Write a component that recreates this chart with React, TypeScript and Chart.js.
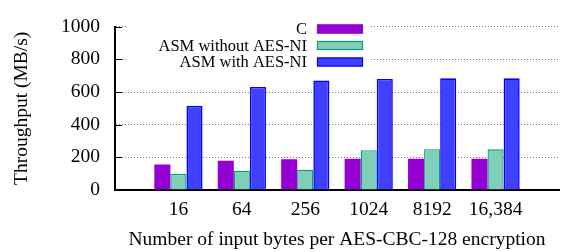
import { useEffect, useRef } from 'react';
import { Chart, registerables } from 'chart.js';

Chart.register(...registerables);

const categories = ['', '16', '64', '256', '1024', '8192', '16,384', ''];
const seriesNames = ['C', 'ASM without AES-NI', 'ASM with AES-NI'];
const cValues = [null, 156, 179, 189, 192, 192, 192, null];
const asmNoAesniValues = [null, 99, 118, 124, 244, 250, 249, null];
const asmAesniValues = [null, 516, 631, 671, 680, 684, 684, null];
const yTickValues = [0, 200, 400, 600, 800, 1000];

const FONT = "'Liberation Serif', 'Times New Roman', serif";
const fills = ['#9400d3', 'rgb(128,206,185)', 'rgb(64,64,255)'];
const borders = ['#9400d3', '#009e73', '#0000ff'];

const legendPlugin = {
  id: 'gnuLegend',
  beforeDatasetsDraw(chart: any) {
    const ctx = chart.ctx as CanvasRenderingContext2D;
    ctx.save();
    ctx.fillStyle = '#ffffff';
    ctx.fillRect(127, 19, 242, 52);
    ctx.font = `16.5px ${FONT}`;
    ctx.textAlign = 'right';
    ctx.textBaseline = 'middle';
    seriesNames.forEach((name, i) => {
      const cy = 29 + i * 16.5;
      ctx.fillStyle = '#000';
      ctx.fillText(name, 307, cy + 1);
      ctx.fillStyle = fills[i];
      ctx.fillRect(317, cy - 4.5, 46, 9);
      ctx.strokeStyle = borders[i];
      ctx.lineWidth = 1.2;
      ctx.strokeRect(317.5, cy - 4, 45, 8);
    });
    ctx.restore();
  },
  afterDatasetsDraw(chart: any) {
    const ctx = chart.ctx as CanvasRenderingContext2D;
    const y = chart.scales.y;
    const left = chart.chartArea.left;
    ctx.save();
    ctx.strokeStyle = '#000';
    ctx.lineWidth = 1;
    yTickValues.forEach((v) => {
      const py = Math.round(y.getPixelForValue(v)) + 0.5;
      ctx.beginPath();
      ctx.moveTo(left, py);
      ctx.lineTo(left + 7, py);
      ctx.stroke();
    });
    ctx.restore();
  },
};

export default function App() {
  const ref = useRef<HTMLCanvasElement | null>(null);

  useEffect(() => {
    document.body.style.margin = '0';
    const canvas = ref.current;
    if (!canvas) return;
    const chart = new Chart(canvas, {
      type: 'bar',
      data: {
        labels: categories,
        datasets: [
          { label: seriesNames[0], data: cValues, backgroundColor: fills[0], borderColor: borders[0], borderWidth: 0 },
          { label: seriesNames[1], data: asmNoAesniValues, backgroundColor: fills[1], borderColor: borders[1], borderWidth: 1.3 },
          { label: seriesNames[2], data: asmAesniValues, backgroundColor: fills[2], borderColor: borders[2], borderWidth: 1.6 },
        ],
      },
      options: {
        animation: false,
        responsive: false,
        devicePixelRatio: 1,
        layout: { padding: { top: 15, right: 0, left: 0, bottom: 0 } },
        datasets: { bar: { categoryPercentage: 0.76, barPercentage: 1.0 } },
        plugins: { legend: { display: false }, tooltip: { enabled: false } },
        scales: {
          x: {
            offset: false,
            grid: { display: false, offset: false, drawTicks: false },
            border: { display: true, color: '#000', width: 2 },
            ticks: { color: '#000', font: { family: FONT, size: 19.5 }, padding: 8, maxRotation: 0, autoSkip: false },
            title: {
              display: true,
              text: 'Number of input bytes per AES-CBC-128 encryption',
              color: '#000',
              font: { family: FONT, size: 19.5 },
              padding: { top: 0, bottom: 0 },
            },
            afterFit: (s: any) => { s.height = 62; },
          },
          y: {
            min: 0,
            max: 1000,
            afterBuildTicks: (s: any) => { s.ticks = yTickValues.map((v) => ({ value: v })); },
            grid: { color: '#7a7a7a', lineWidth: 1, drawTicks: false },
            border: { display: true, color: '#000', width: 2, dash: [1, 2] },
            ticks: {
              color: '#000',
              font: { family: FONT, size: 19.5 },
              padding: 15,
              callback: (v: any) => String(v),
            },
            title: {
              display: true,
              text: 'Throughput (MB/s)',
              color: '#000',
              font: { family: FONT, size: 19.5 },
              padding: { top: 10, bottom: 0 },
            },
            afterFit: (s: any) => { s.width = 115; },
          },
        },
      },
      plugins: [legendPlugin],
    });
    return () => chart.destroy();
  }, []);

  return (
    <div style={{ position: 'absolute', left: 0, top: 0, width: 567, height: 252 }}>
      <canvas ref={ref} width={567} height={252} style={{ display: 'block' }} />
    </div>
  );
}
